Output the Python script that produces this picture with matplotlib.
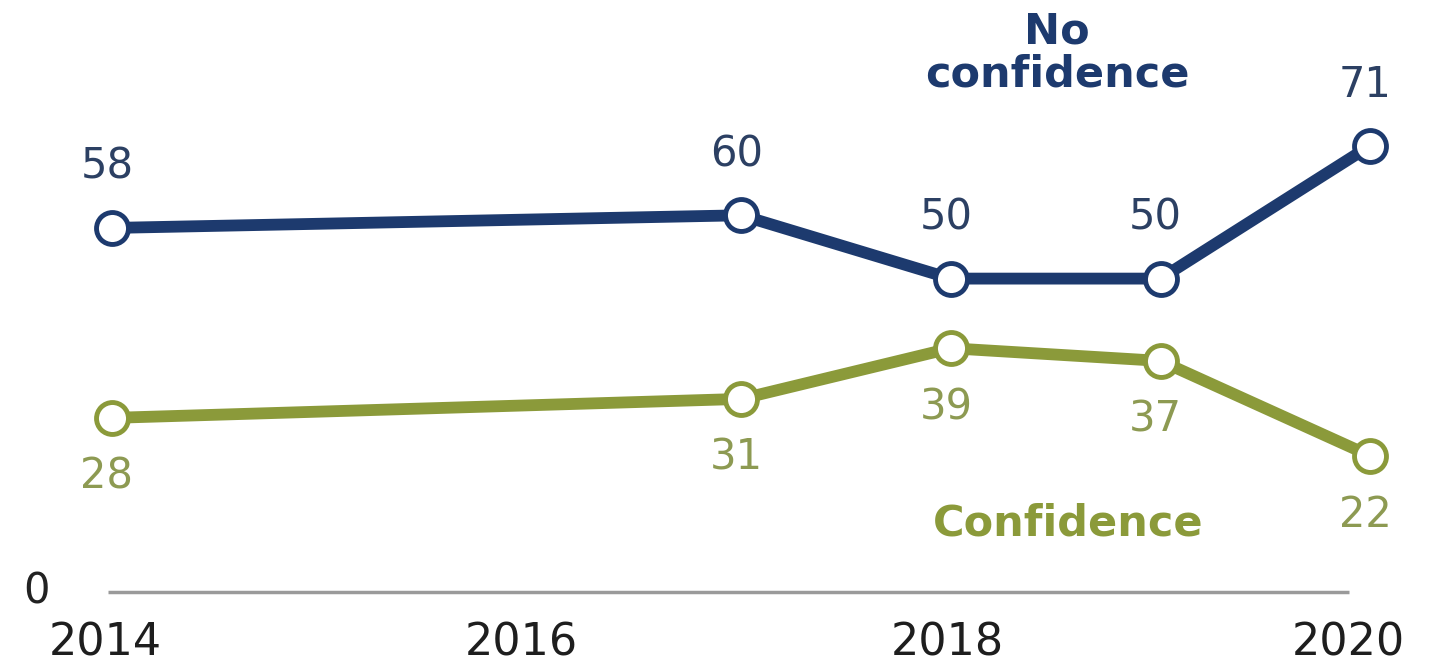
import matplotlib
matplotlib.use("Agg")
import matplotlib.pyplot as plt
from matplotlib.transforms import offset_copy

# Survey years and shares (%)
years = [2014, 2017, 2018, 2019, 2020]
no_confidence = [58, 60, 50, 50, 71]
confidence = [28, 31, 39, 37, 22]
tick_years = [2014, 2016, 2018, 2020]
tick_labels = ["2014", "2016", "2018", "2020"]

NAVY = "#1d3a6e"
NAVY_TXT = "#2c4063"
OLIVE = "#8b9a3a"
OLIVE_TXT = "#8d9a52"

W, H, DPI = 1442, 668, 100
fig = plt.figure(figsize=(W / DPI, H / DPI), dpi=DPI)
ax = fig.add_axes([0, 0, 1, 1])
ax.set_xlim(2013.466, 2020.342)
ax.set_ylim(-11.5, 94.0)
ax.axis("off")

# Baseline at zero
ax.plot([2013.98, 2019.90], [0.5, 0.5], color="#9a9a9a", lw=2.5, solid_capstyle="butt", zorder=1)
ax.text(36 / W, 1 - 592 / H, "0", transform=ax.transAxes, ha="center", va="center",
        fontsize=30, color="#222222")

# Year labels along the bottom
shifts = [-7, -10, -4, -22]
for yr, lab, dx in zip(tick_years, tick_labels, shifts):
    tr = offset_copy(ax.transData, fig=fig, x=dx * 72 / DPI, y=0, units="points")
    ax.text(yr, -7.5, lab, transform=tr, ha="center", va="center", fontsize=32,
            color="#1e1e1e")

marker_kw = dict(marker="o", markersize=23, markerfacecolor="white", markeredgewidth=3.5,
                 lw=8.5, solid_joinstyle="round", zorder=3)
ax.plot(years, no_confidence, color=NAVY, markeredgecolor=NAVY, **marker_kw)
ax.plot(years, confidence, color=OLIVE, markeredgecolor=OLIVE, **marker_kw)

for x, v in zip(years, no_confidence):
    tr = offset_copy(ax.transData, fig=fig, x=-5 * 72 / DPI, y=61 * 72 / DPI, units="points")
    ax.text(x, v, str(v), transform=tr, ha="center", va="center", fontsize=30, color=NAVY_TXT)
for x, v in zip(years, confidence):
    tr = offset_copy(ax.transData, fig=fig, x=-5 * 72 / DPI, y=-59 * 72 / DPI, units="points")
    ax.text(x, v, str(v), transform=tr, ha="center", va="center", fontsize=30, color=OLIVE_TXT)

# Series labels
ax.text(1057 / W, 1 - 53 / H, "No\nconfidence", transform=ax.transAxes, ha="center",
        va="center", fontsize=31, fontweight="bold", color=NAVY, linespacing=1.05)
ax.text(1068 / W, 1 - 524 / H, "Confidence", transform=ax.transAxes, ha="center",
        va="center", fontsize=31, fontweight="bold", color=OLIVE)

fig.savefig("out.png", dpi=DPI)
